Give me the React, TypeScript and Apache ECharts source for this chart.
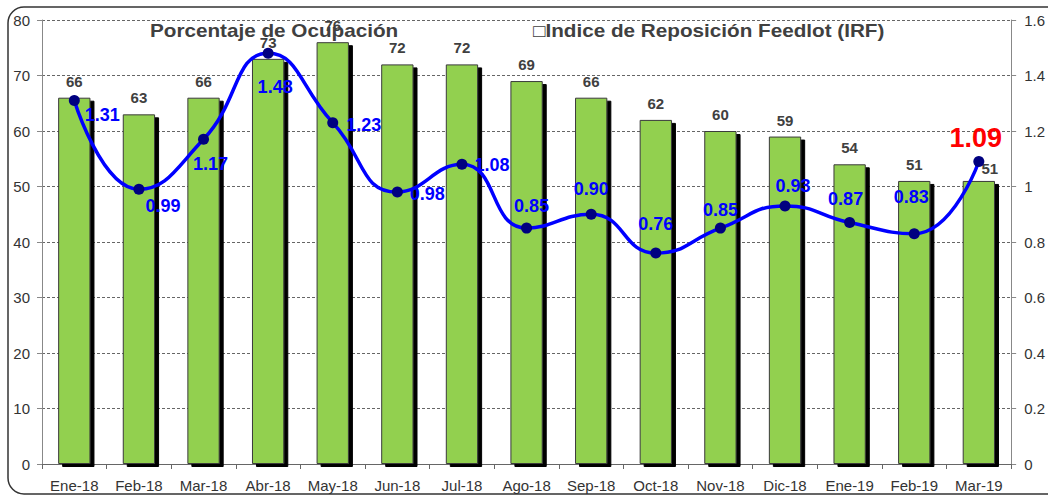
import React, { useEffect, useRef } from "react";
import * as echarts from "echarts";

const categories = [
  "Ene-18", "Feb-18", "Mar-18", "Abr-18", "May-18", "Jun-18", "Jul-18", "Ago-18",
  "Sep-18", "Oct-18", "Nov-18", "Dic-18", "Ene-19", "Feb-19", "Mar-19",
];
const ocupacion = [66, 63, 66, 73, 76, 72, 72, 69, 66, 62, 60, 59, 54, 51, 51];
const irf = [1.31, 0.99, 1.17, 1.48, 1.23, 0.98, 1.08, 0.85, 0.9, 0.76, 0.85, 0.93, 0.87, 0.83, 1.09];

const titleLeft = "Porcentaje de Ocupación";
const titleRight = "\u25A1Indice de Reposición Feedlot (IRF)";

// label offsets (styling only) for the IRF labels, relative to the point
const irfLabelOffsets: [number, number][] = [
  [28, 15], [24, 17], [7, 25], [7, 34], [31, 2], [30, 2], [30, 1], [5, -22],
  [0, -25], [0, -29], [0, -18], [8, -20], [-4, -24], [-3, -37], [-3, -24],
];

export default function App() {
  const ref = useRef<HTMLDivElement>(null);
  useEffect(() => {
    if (!ref.current) return;
    const chart = echarts.init(ref.current, null, { renderer: "svg" });
    const font = "'Liberation Sans', Arial, sans-serif";
    const lineData = irf.map((v, i) => {
      const last = i === irf.length - 1;
      return {
        value: v,
        label: {
          offset: irfLabelOffsets[i],
          color: last ? "#FF0000" : "#0000FF",
          fontSize: last ? 27 : 18,
        },
      };
    });
    const barData = ocupacion.map((v, i) => {
      const last = i === ocupacion.length - 1;
      return last ? { value: v, label: { offset: [11, 4] } } : { value: v };
    });
    chart.setOption({
      animation: false,
      textStyle: { fontFamily: font },
      grid: { left: 42, right: 30, top: 20, bottom: 33, containLabel: false },
      graphic: [
        {
          type: "rect",
          shape: { x: 8, y: 7, width: 1080, height: 487, r: 16 },
          style: { fill: "none", stroke: "#333", lineWidth: 1.5 },
          z: -1,
        },
        {
          type: "text",
          x: 150,
          y: 31,
          scaleX: 1.15,
          style: {
            text: titleLeft,
            font: `bold 18px ${font}`,
            fill: "#404040",
            verticalAlign: "middle",
          },
          z: 10,
        },
        {
          type: "text",
          x: 533,
          y: 31,
          scaleX: 1.15,
          style: {
            text: titleRight,
            font: `bold 18px ${font}`,
            fill: "#404040",
            verticalAlign: "middle",
          },
          z: 10,
        },
      ],
      xAxis: {
        type: "category",
        data: categories,
        boundaryGap: true,
        axisLine: { lineStyle: { color: "#666", width: 1 } },
        axisTick: { show: true, alignWithLabel: false, length: 5, lineStyle: { color: "#666" } },
        axisLabel: { color: "#333", fontSize: 15, margin: 14, interval: 0 },
      },
      yAxis: [
        {
          type: "value",
          min: 0,
          max: 80,
          interval: 10,
          axisLine: { show: true, lineStyle: { color: "#888" } },
          axisTick: { show: true, length: 5, lineStyle: { color: "#888" } },
          axisLabel: { color: "#333", fontSize: 15, margin: 12 },
          splitLine: { show: true, lineStyle: { color: "#666", type: [3, 2], width: 1 } },
        },
        {
          type: "value",
          min: 0,
          max: 1.6,
          interval: 0.2,
          axisLine: { show: true, lineStyle: { color: "#888" } },
          axisTick: { show: true, length: 5, lineStyle: { color: "#888" } },
          axisLabel: {
            color: "#333",
            fontSize: 15,
            margin: 13,
            formatter: (v: number) => String(Number(v.toFixed(1))),
          },
          splitLine: { show: false },
        },
      ],
      series: [
        {
          type: "bar",
          data: barData,
          yAxisIndex: 0,
          barWidth: "50%",
          itemStyle: {
            color: "#92D050",
            borderColor: "#3a3a3a",
            borderWidth: 1,
            shadowColor: "#000",
            shadowOffsetX: 4,
            shadowOffsetY: 3,
            shadowBlur: 0,
          },
          label: {
            show: true,
            position: "top",
            distance: 9,
            color: "#404040",
            fontSize: 15,
            fontWeight: "bold",
          },
          z: 2,
        },
        {
          type: "line",
          data: lineData,
          yAxisIndex: 1,
          smooth: 0.5,
          symbol: "circle",
          symbolSize: 11,
          lineStyle: { color: "#0000FF", width: 3.5 },
          itemStyle: { color: "#000080" },
          label: {
            show: true,
            position: "inside",
            fontWeight: "bold",
            formatter: (p: any) => Number(p.value).toFixed(2),
          },
          z: 5,
        },
      ],
    });
    return () => chart.dispose();
  }, []);
  return (
    <div
      ref={ref}
      style={{ position: "fixed", left: 0, top: 0, width: 1048, height: 497, background: "#fff" }}
    />
  );
}
